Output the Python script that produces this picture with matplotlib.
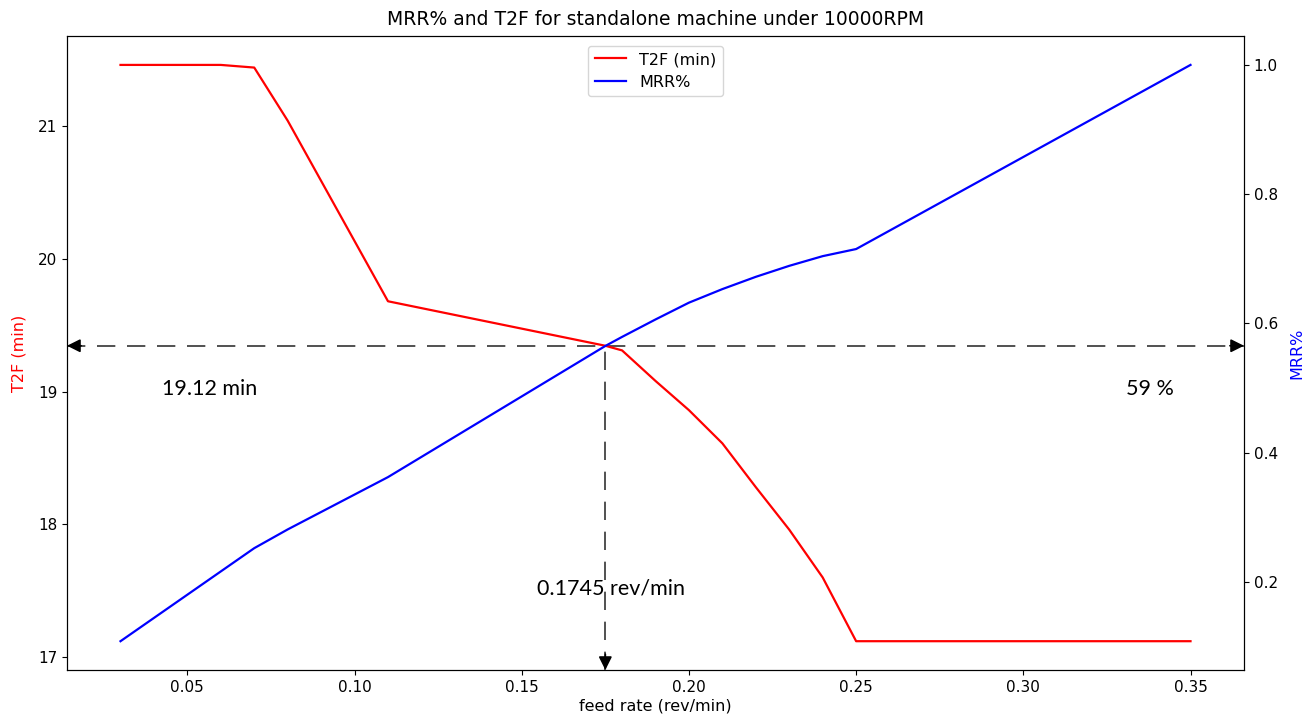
import matplotlib
matplotlib.use("Agg")
import matplotlib.pyplot as plt

# T2F data (left axis)
feed_t2f = [0.03, 0.06, 0.07, 0.08, 0.11, 0.175, 0.18, 0.19, 0.20, 0.21, 0.22, 0.23, 0.24, 0.25, 0.35]
t2f = [21.46, 21.46, 21.44, 21.04, 19.68, 19.345, 19.31, 19.08, 18.86, 18.61, 18.28, 17.96, 17.60, 17.12, 17.12]

# MRR data (right axis)
feed_mrr = [0.03, 0.07, 0.08, 0.11, 0.175, 0.18, 0.19, 0.20, 0.21, 0.22, 0.23, 0.24, 0.25, 0.35]
mrr = [0.108, 0.252, 0.281, 0.362, 0.565, 0.579, 0.606, 0.632, 0.653, 0.672, 0.689, 0.704, 0.715, 1.0]

x_mark = 0.175
y_mark = 19.345
title = "MRR% and T2F for standalone machine under 10000RPM"
txt_t2f = "19.12 min"
txt_mrr = "59 %"
txt_feed = "0.1745 rev/min"

fig = plt.figure(figsize=(13.11, 7.22), dpi=100)
ax = fig.add_axes([0.0511, 0.072, 0.8978, 0.878])
ax2 = ax.twinx()

l1, = ax.plot(feed_t2f, t2f, color="red", lw=1.6, label="T2F (min)")
l2, = ax2.plot(feed_mrr, mrr, color="blue", lw=1.6, label="MRR%")

ax.set_title(title, fontsize=13.5, pad=8)
ax.set_xlabel("feed rate (rev/min)", fontsize=11.5, labelpad=3)
ax.set_ylabel("T2F (min)", color="red", fontsize=11.5, labelpad=8)
ax2.set_ylabel("MRR%", color="blue", fontsize=11.5, labelpad=8)
ax.set_xticks([0.05, 0.10, 0.15, 0.20, 0.25, 0.30, 0.35])
ax.set_yticks([17, 18, 19, 20, 21])
ax2.set_yticks([0.2, 0.4, 0.6, 0.8, 1.0])
ax.tick_params(labelsize=11)
ax2.tick_params(labelsize=11)

ax.legend([l1, l2], [l1.get_label(), l2.get_label()], loc="upper center",
          fontsize=11.5, borderaxespad=0.6)

# dashed guide lines
dash = (0, (11, 7))
gcol = "#333333"
xmin, xmax = ax.get_xlim()
ymin, ymax = ax.get_ylim()
ax.plot([xmin, xmax], [y_mark, y_mark], color=gcol, lw=1.2, ls=dash, zorder=1)
ax.plot([x_mark, x_mark], [ymin, y_mark], color=gcol, lw=1.2, ls=dash, zorder=1)
ax.set_xlim(xmin, xmax)
ax.set_ylim(ymin, ymax)

ap = dict(arrowstyle="-|>,head_length=0.8,head_width=0.4", color="black", lw=1.2,
          mutation_scale=10, shrinkA=0, shrinkB=0)
span_x = xmax - xmin
span_y = ymax - ymin
ax.annotate("", xy=(xmin, y_mark), xytext=(xmin + 0.012 * span_x, y_mark), arrowprops=ap)
ax.annotate("", xy=(xmax, y_mark), xytext=(xmax - 0.012 * span_x, y_mark), arrowprops=ap)
ax.annotate("", xy=(x_mark, ymin), xytext=(x_mark, ymin + 0.025 * span_y), arrowprops=ap)

tf = dict(fontsize=15.5, family=["Lato", "DejaVu Sans"], color="black")
ax.text(0.0567, 19.02, txt_t2f, ha="center", va="center", **tf)
ax.text(0.338, 19.02, txt_mrr, ha="center", va="center", **tf)
ax.text(0.1768, 17.52, txt_feed, ha="center", va="center", **tf)

fig.savefig("out.png", dpi=100)
